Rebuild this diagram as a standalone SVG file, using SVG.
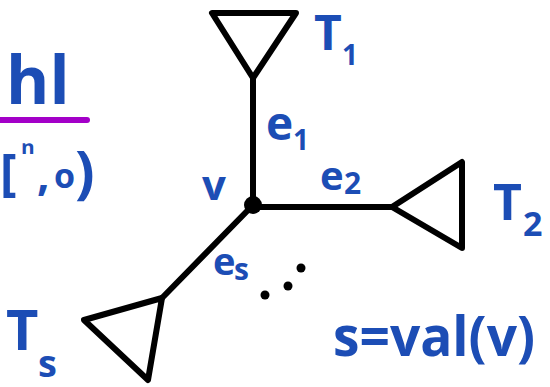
<svg xmlns="http://www.w3.org/2000/svg" width="550" height="387" viewBox="0 0 550 387">
<style>
.ln{stroke:#000;stroke-width:6;fill:none;stroke-linejoin:round;stroke-linecap:round}
.lb{fill:#1c4db5;font-family:"Open Sans","Liberation Sans",sans-serif;font-weight:bold}
</style>
<rect width="550" height="387" fill="#fff"/>
<g id="left-fragment">
<text class="lb" x="6" y="104" font-size="66">hl</text>
<line x1="0" y1="120" x2="87" y2="120" stroke="#a300c8" stroke-width="6" stroke-linecap="round"/>
<text class="lb" x="0" y="190" font-size="50">[</text>
<text class="lb" x="21" y="163" font-size="32">ⁿ</text>
<text class="lb" x="37" y="190" font-size="44">,</text>
<text class="lb" x="54" y="188" font-size="34">o</text>
<text class="lb" x="75" y="192" font-size="58">)</text>
</g>
<g id="connectors">
<line class="ln" x1="253" y1="205" x2="253" y2="78"/>
<line class="ln" x1="253" y1="207" x2="392" y2="207"/>
<line class="ln" x1="253" y1="205" x2="162" y2="298"/>
</g>
<g id="v">
<circle cx="253" cy="205" r="9" fill="#000"/>
<text class="lb" x="202" y="200" font-size="42">v</text>
</g>
<g id="T1">
<polygon class="ln" points="212,13 296,13 253,78"/>
<text class="lb" x="314" y="50" font-size="48">T</text>
<text class="lb" x="342" y="65" font-size="28">1</text>
</g>
<g id="T2">
<polygon class="ln" points="392,207 462,162 462,248"/>
<text class="lb" x="493" y="220" font-size="50">T</text>
<text class="lb" x="523" y="236" font-size="34">2</text>
</g>
<g id="Ts">
<polygon class="ln" points="162,298 84,320 148,380"/>
<text class="lb" x="6" y="350" font-size="56">T</text>
<text class="lb" x="38" y="377" font-size="38">s</text>
</g>
<g id="edge-labels">
<text class="lb" x="266" y="140" font-size="46">e</text>
<text class="lb" x="293" y="150" font-size="28">1</text>
<text class="lb" x="320" y="190" font-size="40">e</text>
<text class="lb" x="344" y="194" font-size="30">2</text>
<text class="lb" x="213" y="275" font-size="38">e</text>
<text class="lb" x="234" y="280" font-size="30">s</text>
</g>
<g id="dots" fill="#000">
<circle cx="301" cy="268" r="4.5"/>
<circle cx="288" cy="286" r="4.5"/>
<circle cx="265" cy="295" r="4.5"/>
</g>
<g id="caption">
<text class="lb" x="333" y="356" font-size="56" textLength="202" lengthAdjust="spacingAndGlyphs">s=val(v)</text>
</g>
</svg>
